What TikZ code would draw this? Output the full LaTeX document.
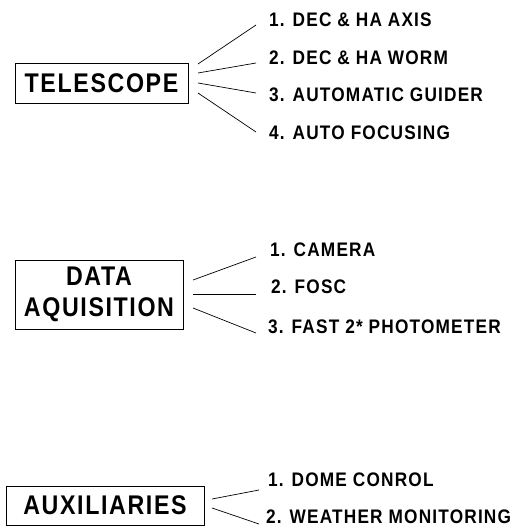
\documentclass[tikz,border=0pt]{standalone}
\usepackage{fontspec}
\usetikzlibrary{positioning}
\newfontfamily\boxfont[FakeStretch=0.86,LetterSpace=6]{Liberation Sans}
\newfontfamily\itemfont[FakeStretch=0.88,LetterSpace=6]{Liberation Sans}

\begin{document}
\begin{tikzpicture}[x=1pt,y=-1pt,
    blockbox/.style={draw, line width=0.8pt, inner sep=0pt, align=center,
        font=\boxfont\bfseries\fontsize{27}{31}\selectfont},
    item/.style={anchor=base west, inner sep=0pt,
        font=\itemfont\bfseries\fontsize{19.6}{22}\selectfont},
    branch/.style={line width=0.7pt}]
    \useasboundingbox (0,0) rectangle (512,526);

    % main blocks
    \node[blockbox, minimum width=173pt, minimum height=40pt] (tel) at (101.5,83) {TELESCOPE};
    \node[blockbox, minimum width=168pt, minimum height=69pt] (daq) at (99,294.5) {DATA\\AQUISITION};
    \node[blockbox, minimum width=198pt, minimum height=39pt] (aux) at (105,505.5) {AUXILIARIES};

    % sub items
    \node[item] (t1) at (269,26.5) {1. DEC \& HA AXIS};
    \node[item] (t2) at (269,64.5) {2. DEC \& HA WORM};
    \node[item] (t3) at (269,102) {3. AUTOMATIC GUIDER};
    \node[item] (t4) at (269,139.5) {4. AUTO FOCUSING};

    \node[item] (d1) at (270,256) {1. CAMERA};
    \node[item] (d2) at (271,293) {2. FOSC};
    \node[item] (d3) at (268,333) {3. FAST 2* PHOTOMETER};

    \node[item] (a1) at (268,486) {1. DOME CONROL};
    \node[item] (a2) at (266,523) {2. WEATHER MONITORING};

    % fan-out lines
    \foreach \n/\ya/\yb in {1/64/25, 2/73/63, 3/83/93, 4/93/132}{
        \coordinate (ts\n) at (198,\ya);
        \coordinate (te\n) at (256,\yb);
        \draw[branch] (ts\n) -- (te\n);
    }
    \foreach \n/\ya/\yb in {1/280/257, 2/294/294, 3/308/333}{
        \coordinate (ds\n) at (193,\ya);
        \coordinate (de\n) at (256,\yb);
        \draw[branch] (ds\n) -- (de\n);
    }
    \foreach \n/\ya/\yb in {1/499/490, 2/508/524}{
        \coordinate (as\n) at (212,\ya);
        \coordinate (ae\n) at (259,\yb);
        \draw[branch] (as\n) -- (ae\n);
    }
\end{tikzpicture}
\end{document}
